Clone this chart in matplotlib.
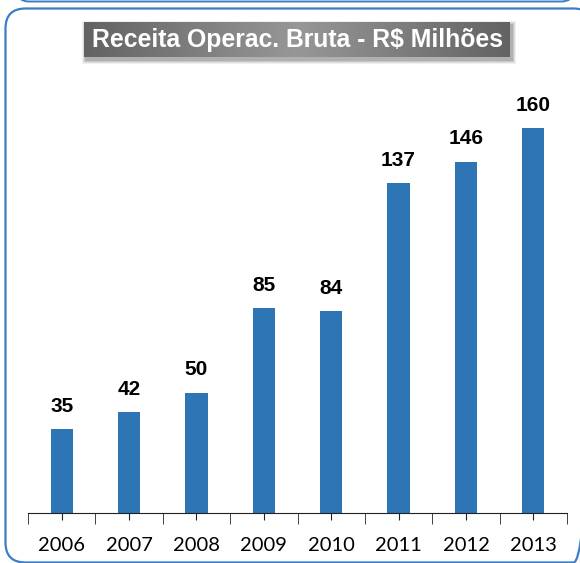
import numpy as np
import matplotlib.pyplot as plt
from matplotlib.patches import FancyBboxPatch, Rectangle
from matplotlib.colors import LinearSegmentedColormap

anos = ['2006', '2007', '2008', '2009', '2010', '2011', '2012', '2013']
receita = [35, 42, 50, 85, 84, 137, 146, 160]
titulo = 'Receita Operac. Bruta - R$ Milhões'

W, H = 580, 563
fig = plt.figure(figsize=(W / 100, H / 100), dpi=100)

# fundo em pixels para a moldura e a caixa do titulo
bg = fig.add_axes([0, 0, 1, 1])
bg.set_xlim(0, W)
bg.set_ylim(H, 0)
bg.axis('off')
bg.add_patch(FancyBboxPatch((5.5, 8.5), 588, 554, boxstyle='round,pad=0,rounding_size=20',
                            fill=False, edgecolor='#3b7dc8', linewidth=1.6))
bg.add_patch(FancyBboxPatch((17, -20), 556, 21.5, boxstyle='round,pad=0,rounding_size=12',
                            fill=False, edgecolor='#3b7dc8', linewidth=1.4))

# caixa do titulo com sombra e gradiente
bx0, by0, bw, bh = 84, 22, 426, 35
for d, a in [(4, 0.08), (3, 0.10), (2, 0.14), (1, 0.18)]:
    bg.add_patch(Rectangle((bx0 + 2 - d, by0 + 3 - d), bw + 2 * d, bh + 2 * d,
                           facecolor='#444444', edgecolor='none', alpha=a))
cinza = LinearSegmentedColormap.from_list('cinza', ['#636363', '#979797'])
grad = 1 - np.abs(np.linspace(-1, 1, 200))
bg.imshow(grad[None, :], aspect='auto', cmap=cinza, vmin=0, vmax=1,
          extent=[bx0, bx0 + bw, by0 + bh, by0], zorder=3)
bg.set_xlim(0, W)
bg.set_ylim(H, 0)
bg.text(bx0 + bw / 2, by0 + bh / 2 + 0.5, titulo, ha='center', va='center', color='white',
        fontsize=17.8, fontweight='bold', family='Liberation Sans', zorder=4)

# eixo principal
left, right, bottom = 28, 567, 513
ymax = 180
px_per_unit = 385 / 160
top = bottom - ymax * px_per_unit
ax = fig.add_axes([left / W, (H - bottom) / H, (right - left) / W, (bottom - top) / H])
ax.patch.set_visible(False)
x = np.arange(len(anos))
ax.bar(x, receita, width=0.33, color='#2e75b6')
for xi, v in zip(x, receita):
    ax.text(xi, v + 5.5, str(v), ha='center', va='bottom', fontsize=15,
            fontweight='bold', family='Liberation Sans')
ax.set_xlim(-0.5, len(anos) - 0.5)
ax.set_ylim(0, ymax)
ax.set_yticks([])
for s in ['top', 'right', 'left']:
    ax.spines[s].set_visible(False)
ax.spines['bottom'].set_color('#222222')
ax.set_xticks(x)
ax.set_xticklabels(anos, fontsize=14.5, family='Lato')
ax.set_xticks(np.arange(-0.5, len(anos)), minor=True)
ax.tick_params(axis='x', which='major', length=5, direction='out', pad=12, color='#222222')
ax.tick_params(axis='x', which='minor', length=8, direction='out', color='#222222')

fig.savefig('out.png', dpi=100)
